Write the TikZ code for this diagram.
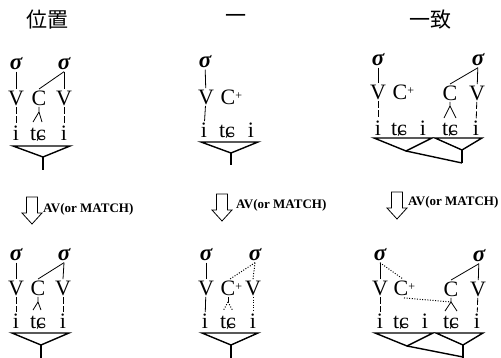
\documentclass[tikz,border=0pt]{standalone}
\usepackage{fontspec}
\setmainfont{Liberation Serif}
\newfontfamily\cjkfont{Noto Sans CJK JP}
\usetikzlibrary{calc}
\newcommand\cplus{\rlap{\raisebox{5pt}{\fontsize{12}{12}\selectfont +}}}
\newcommand\myblockarrow[2]{%
  \draw[barrow] ({#1-5.5},#2) -- ({#1+5.5},#2) -- ({#1+5.5},{#2+16}) -- ({#1+10},{#2+16})
    -- (#1,{#2+27}) -- ({#1-10},{#2+16}) -- ({#1-5.5},{#2+16}) -- cycle;}
\tikzset{
  sig/.style={font=\fontsize{23}{23}\selectfont\bfseries\itshape, text height=10pt, text depth=0pt, inner sep=1.5pt},
  seg/.style={font=\fontsize{22}{22}\selectfont, text height=14.5pt, text depth=0pt, inner sep=1.5pt},
  ttl/.style={font=\cjkfont\fontsize{21}{21}\selectfont, inner sep=0pt},
  lab/.style={font=\fontsize{13}{13}\selectfont\bfseries, anchor=west, inner sep=0pt},
  ln/.style={line width=0.8pt},
  vdash/.style={line width=0.8pt, dash pattern=on 7pt off 2.5pt},
  dots/.style={line width=1pt, dash pattern=on 1pt off 1.6pt},
  tri/.style={line width=1.4pt, line join=miter},
  barrow/.style={line width=0.8pt, fill=white},
}
\begin{document}
\begin{tikzpicture}[x=1pt,y=-1pt]
\useasboundingbox (0,0) rectangle (501,358);
% titles
\node[ttl] (t1) at (48,20) {位置};
\node[ttl] (t2) at (236,19) {一};
\node[ttl] (t3) at (430,20) {一致};

%% ===== Panel 1 top =====
\node[sig] (s1L) at (16,65) {σ};
\node[sig] (s1R) at (64,65) {σ};
\node[seg] (v1L) at (16,98) {V};
\node[seg] (c1) at (39,98) {C};
\node[seg] (v1R) at (64,98) {V};
\node[seg] (i1L) at (16,133) {i};
\node[seg] (x1) at (38,133) {tɕ};
\node[seg] (i1R) at (64,133) {i};
\draw[ln] (s1L) -- (v1L);
\draw[ln] (s1R) -- (v1R);
\draw[ln] (s1R.south) -- (c1.north);
\draw[vdash] (v1L) -- (i1L);
\draw[vdash] (v1R) -- (i1R);
\coordinate (j1) at ($(c1.south)+(0,5)$);
\draw[ln] (c1.south) -- (j1) -- ($(x1.north)+(-5,-2)$);
\draw[ln] (j1) -- ($(x1.north)+(4,-2)$);
\coordinate (a1) at (13,146); \coordinate (b1) at (70,146);
\coordinate (p1) at (43,157); \coordinate (q1) at (43,170);
\draw[tri] (a1) -- (b1) -- (p1) -- cycle;
\draw[tri] (p1) -- (q1);

%% ===== Panel 2 top =====
\node[sig] (s2) at (205,63) {σ};
\node[seg] (v2) at (206,97) {V};
\node[seg] (c2) at (228,97) {C\cplus};
\node[seg] (i2L) at (204,130) {i};
\node[seg] (x2) at (227,130) {tɕ};
\node[seg] (i2R) at (251,130) {i};
\draw[ln] (s2) -- (v2);
\draw[ln] (v2) -- (i2L);
\coordinate (a2) at (201,142); \coordinate (b2) at (258,142);
\coordinate (p2) at (231,153); \coordinate (q2) at (231,165);
\draw[tri] (a2) -- (b2) -- (p2) -- cycle;
\draw[tri] (p2) -- (q2);

%% ===== Panel 3 top =====
\node[sig] (s3L) at (378,61) {σ};
\node[sig] (s3R) at (478,61) {σ};
\node[seg] (v3L) at (378,92) {V};
\node[seg] (c3a) at (400,92) {C\cplus};
\node[seg] (c3b) at (450,93) {C};
\node[seg] (v3R) at (477,93) {V};
\node[seg] (i3a) at (378,128) {i};
\node[seg] (x3a) at (399,128) {tɕ};
\node[seg] (i3b) at (423,128) {i};
\node[seg] (x3b) at (450,128) {tɕ};
\node[seg] (i3c) at (476,128) {i};
\draw[ln] (s3L) -- (v3L);
\draw[vdash] (v3L) -- (i3a);
\draw[ln] (s3R) -- (v3R);
\draw[ln] (s3R.south) -- (c3b.north);
\draw[vdash] (v3R) -- (i3c);
\coordinate (j3) at ($(c3b.south)+(0,4)$);
\draw[ln] (c3b.south) -- (j3) -- ($(x3b.north)+(-6,-1)$);
\draw[ln] (j3) -- ($(x3b.north)+(6,-1)$);
\coordinate (a3) at (374,138); \coordinate (b3) at (432,138); \coordinate (p3) at (406,151);
\coordinate (a4) at (435,138); \coordinate (b4) at (482,138); \coordinate (p4) at (462,150);
\coordinate (q4) at (462,163);
\draw[tri] (a3) -- (b3) -- (p3) -- cycle;
\draw[tri] (a4) -- (b4) -- (p4) -- cycle;
\draw[tri] (p4) -- (q4);
\draw[tri] (p3) -- (q4);

%% ===== Arrows =====
\myblockarrow{32}{197}
\node[lab] (l1) at (43,209) {AV(or MATCH)};
\myblockarrow{222}{194}
\node[lab] (l2) at (236,205) {AV(or MATCH)};
\myblockarrow{397}{192}
\node[lab] (l3) at (408,202) {AV(or MATCH)};

%% ===== Panel 1 bottom =====
\node[sig] (s5L) at (16,256) {σ};
\node[sig] (s5R) at (64,256) {σ};
\node[seg] (v5L) at (16,288) {V};
\node[seg] (c5) at (38,288) {C};
\node[seg] (v5R) at (63,288) {V};
\node[seg] (i5L) at (16,321) {i};
\node[seg] (x5) at (38,321) {tɕ};
\node[seg] (i5R) at (63,321) {i};
\draw[ln] (s5L) -- (v5L);
\draw[ln] (s5R.south) -- (v5R.north);
\draw[ln] (s5R.south) -- (c5.north);
\draw[vdash] (v5L) -- (i5L);
\draw[vdash] (v5R) -- (i5R);
\coordinate (j5) at ($(c5.south)+(0,5)$);
\draw[ln] (c5.south) -- (j5) -- ($(x5.north)+(-5,-2)$);
\draw[ln] (j5) -- ($(x5.north)+(3,-2)$);
\coordinate (a5) at (12,333); \coordinate (b5) at (69,333);
\coordinate (p5) at (41,345); \coordinate (q5) at (41,360);
\draw[tri] (a5) -- (b5) -- (p5) -- cycle;
\draw[tri] (p5) -- (q5);

%% ===== Panel 2 bottom =====
\node[sig] (s6L) at (206,256) {σ};
\node[sig] (s6R) at (255,256) {σ};
\node[seg] (v6L) at (206,288) {V};
\node[seg] (c6) at (228,288) {C\cplus};
\node[seg] (v6R) at (253,288) {V};
\node[seg] (i6L) at (205,321) {i};
\node[seg] (x6) at (228,321) {tɕ};
\node[seg] (i6R) at (253,321) {i};
\draw[ln] (s6L) -- (v6L);
\draw[ln] (v6L) -- (i6L);
\draw[dots] (s6R.south) -- ($(c6.north)+(2,0)$);
\draw[dots] (s6R.south) -- (v6R.north);
\draw[dots] (v6R) -- (i6R);
\coordinate (j6) at ($(c6.south)+(0,5)$);
\draw[ln] (c6.south) -- (j6);
\draw[dots] (j6) -- ($(x6.north)+(-5,-1)$);
\draw[dots] (j6) -- ($(x6.north)+(5,-1)$);
\coordinate (a6) at (202,333); \coordinate (b6) at (258,333);
\coordinate (p6) at (231,345); \coordinate (q6) at (231,360);
\draw[tri] (a6) -- (b6) -- (p6) -- cycle;
\draw[tri] (p6) -- (q6);

%% ===== Panel 3 bottom =====
\node[sig] (s7L) at (380,256) {σ};
\node[sig] (s7R) at (479,257) {σ};
\node[seg] (v7L) at (380,288) {V};
\node[seg] (c7a) at (401,288) {C\cplus};
\node[seg] (c7b) at (451,289) {C};
\node[seg] (v7R) at (478,289) {V};
\node[seg] (i7a) at (380,321) {i};
\node[seg] (x7a) at (401,321) {tɕ};
\node[seg] (i7b) at (425,321) {i};
\node[seg] (x7b) at (451,321) {tɕ};
\node[seg] (i7c) at (477,321) {i};
\draw[ln] (s7L) -- (v7L);
\draw[dots] (s7L.south) -- ($(c7a.north)+(2,0)$);
\draw[vdash] (v7L) -- (i7a);
\draw[ln] (s7R) -- (v7R);
\draw[ln] (s7R.south) -- (c7b.north);
\draw[vdash] (v7R) -- (i7c);
\coordinate (j7) at ($(c7b.south)+(0,4)$);
\draw[ln] (c7b.south) -- (j7) -- ($(x7b.north)+(-6,-1)$);
\draw[ln] (j7) -- ($(x7b.north)+(6,-1)$);
\draw[dots] ($(c7a.south)+(3,1)$) -- (j7);
\coordinate (a7) at (375,333); \coordinate (b7) at (433,333); \coordinate (p7) at (407,346);
\coordinate (a8) at (436,333); \coordinate (b8) at (483,333); \coordinate (p8) at (463,345);
\coordinate (q8) at (463,360);
\draw[tri] (a7) -- (b7) -- (p7) -- cycle;
\draw[tri] (a8) -- (b8) -- (p8) -- cycle;
\draw[tri] (p8) -- (q8);
\draw[tri] (p7) -- (463,357);
\end{tikzpicture}
\end{document}
